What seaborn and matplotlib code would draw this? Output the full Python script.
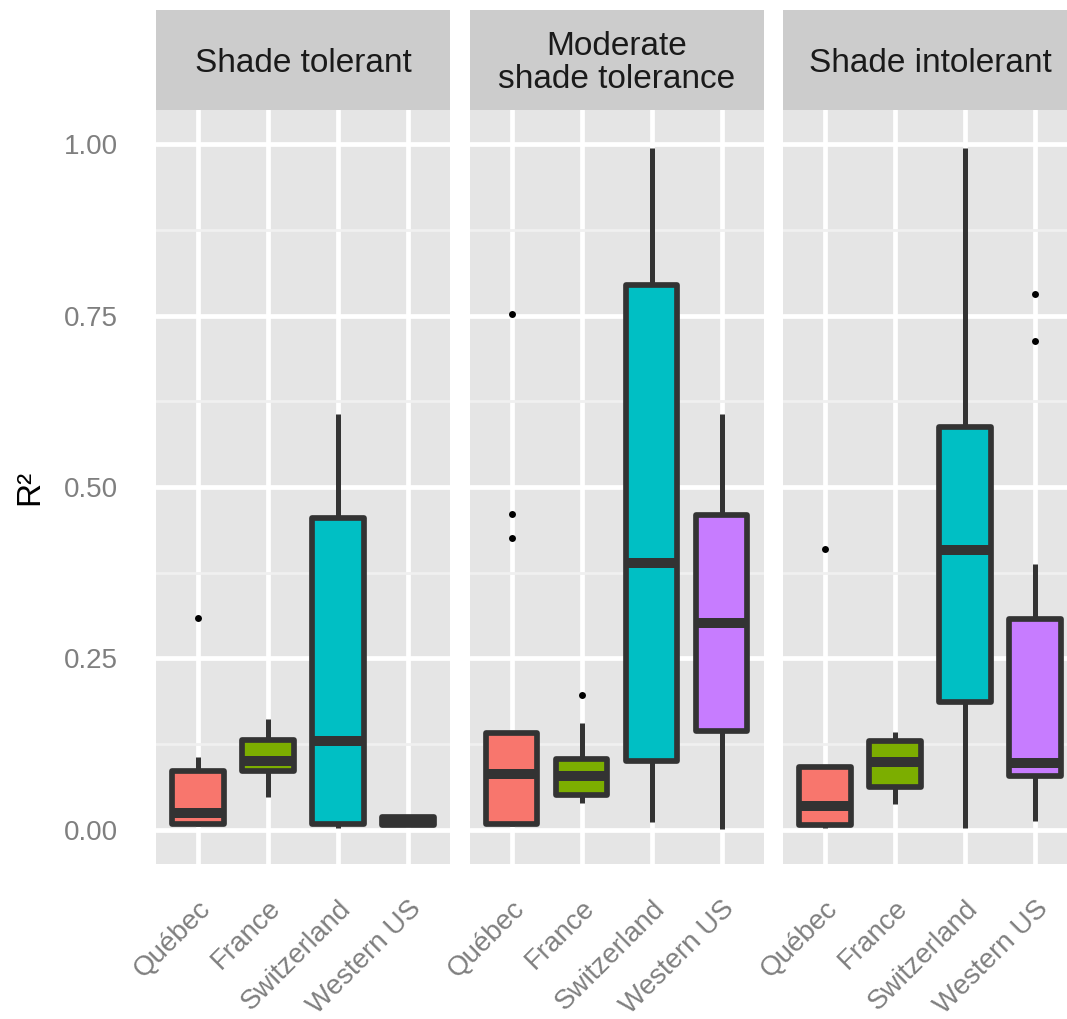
import numpy as np
import pandas as pd
import seaborn as sns
import matplotlib.pyplot as plt
from matplotlib.ticker import MultipleLocator, FormatStrFormatter

# ---- data -------------------------------------------------------------
tolerance_groups = ["Shade tolerant", "Moderate\nshade tolerance", "Shade intolerant"]
regions = ["Québec", "France", "Switzerland", "Western US"]
region_colors = ["#F8766D", "#7CAE00", "#00BFC4", "#C77CFF"]

# Five-number summaries of R² per tolerance group (rows) and region (columns)
whisker_low = [
    [0.005, 0.048, 0.003, 0.005],
    [0.006, 0.039, 0.012, 0.001],
    [0.003, 0.038, 0.003, 0.013],
]
quartile_1 = [
    [0.009, 0.086, 0.009, 0.007],
    [0.009, 0.050, 0.100, 0.144],
    [0.007, 0.063, 0.187, 0.078],
]
medians = [
    [0.024, 0.100, 0.130, 0.013],
    [0.081, 0.078, 0.389, 0.301],
    [0.035, 0.099, 0.408, 0.098],
]
quartile_3 = [
    [0.086, 0.131, 0.455, 0.018],
    [0.141, 0.103, 0.795, 0.459],
    [0.092, 0.130, 0.588, 0.307],
]
whisker_high = [
    [0.106, 0.161, 0.607, 0.021],
    [0.141, 0.156, 0.994, 0.607],
    [0.092, 0.143, 0.994, 0.387],
]

# Points beyond the whiskers
outlier_group = [0, 1, 1, 1, 1, 2, 2, 2]
outlier_region = ["Québec", "Québec", "Québec", "Québec", "France",
                  "Québec", "Western US", "Western US"]
outlier_value = [0.309, 0.752, 0.461, 0.425, 0.197, 0.409, 0.713, 0.782]

y_ticks = [0.00, 0.25, 0.50, 0.75, 1.00]

# ---- long tables --------------------------------------------------------
rows = []
for g, group in enumerate(tolerance_groups):
    for r, region in enumerate(regions):
        for stat in (whisker_low, quartile_1, medians, quartile_3, whisker_high):
            rows.append({"group": group, "region": region, "r2": stat[g][r]})
summary = pd.DataFrame(rows)

outliers = pd.DataFrame({
    "group": [tolerance_groups[i] for i in outlier_group],
    "region": outlier_region,
    "r2": outlier_value,
})

# ---- style ----------------------------------------------------------------
sns.set_theme(style="darkgrid")
plt.rcParams["font.family"] = ["Liberation Sans", "DejaVu Sans"]

panel_bg = "#E5E5E5"
strip_bg = "#CCCCCC"
axis_grey = "#7F7F7F"
line_dark = "#333333"

W, H = 1067, 1019
fig = plt.figure(figsize=(W / 100, H / 100), dpi=100)
fig.patch.set_facecolor("white")

panel_w = 294
panel_lefts = [156, 469.5, 783]
panel_top, panel_bottom = 110, 864
strip_top = 10

palette = dict(zip(regions, region_colors))

for g, group in enumerate(tolerance_groups):
    left = panel_lefts[g] / W
    ax = fig.add_axes([left, (H - panel_bottom) / H, panel_w / W,
                       (panel_bottom - panel_top) / H])
    ax.set_facecolor(panel_bg)

    sub = summary[summary["group"] == group]
    sns.boxplot(
        data=sub, x="region", y="r2", hue="region", order=regions,
        hue_order=regions, palette=palette, saturation=1, legend=False,
        whis=(0, 100), width=0.73, linecolor=line_dark, linewidth=4.1,
        showcaps=False, showfliers=False,
        boxprops={"joinstyle": "round"},
        medianprops={"linewidth": 7.2, "color": line_dark,
                     "solid_capstyle": "butt"},
        whiskerprops={"linewidth": 3.6, "color": line_dark,
                      "solid_capstyle": "butt"},
        ax=ax,
    )
    sub_out = outliers[outliers["group"] == group]
    if len(sub_out):
        sns.stripplot(data=sub_out, x="region", y="r2", order=regions,
                      color="black", size=5.0, jitter=False, ax=ax, zorder=5)

    ax.set_xlim(-0.6, 3.6)
    ax.set_ylim(-0.05, 1.05)
    ax.set_xlabel("")
    ax.set_ylabel("")

    ax.yaxis.set_major_locator(plt.FixedLocator(y_ticks))
    ax.yaxis.set_minor_locator(MultipleLocator(0.125))
    ax.yaxis.set_major_formatter(FormatStrFormatter("%.2f"))

    ax.set_axisbelow(True)
    ax.grid(False)
    ax.grid(True, which="major", axis="both", color="white", linewidth=3.4)
    ax.grid(True, which="minor", axis="y", color="#F0F0F0", linewidth=2.0)

    for s in ax.spines.values():
        s.set_visible(False)

    ax.tick_params(axis="both", which="major", length=16.5, width=3.6,
                   color=axis_grey, labelcolor=axis_grey, labelsize=20)
    ax.tick_params(axis="y", which="minor", length=0)
    ax.tick_params(axis="y", which="major", pad=11)
    ax.tick_params(axis="x", which="major", pad=6)

    ax.set_xticks(range(len(regions)))
    ax.set_xticklabels(regions, rotation=45, ha="right", va="top",
                       rotation_mode="anchor")
    if g > 0:
        ax.tick_params(axis="y", which="major", length=0, labelleft=False)

    # facet strip
    sax = fig.add_axes([left, (H - panel_top) / H, panel_w / W,
                        (panel_top - strip_top) / H])
    sax.set_facecolor(strip_bg)
    sax.set_xticks([])
    sax.set_yticks([])
    sax.grid(False)
    for s in sax.spines.values():
        s.set_visible(False)
    sax.text(0.5, 0.47, group, ha="center", va="center", fontsize=24,
             color="#1A1A1A", linespacing=1.05, transform=sax.transAxes)

fig.text(30 / W, (H - (panel_top + panel_bottom) / 2) / H, "R²",
         rotation=90, ha="center", va="center", fontsize=24, color="black")

fig.savefig("out.png", dpi=100)
